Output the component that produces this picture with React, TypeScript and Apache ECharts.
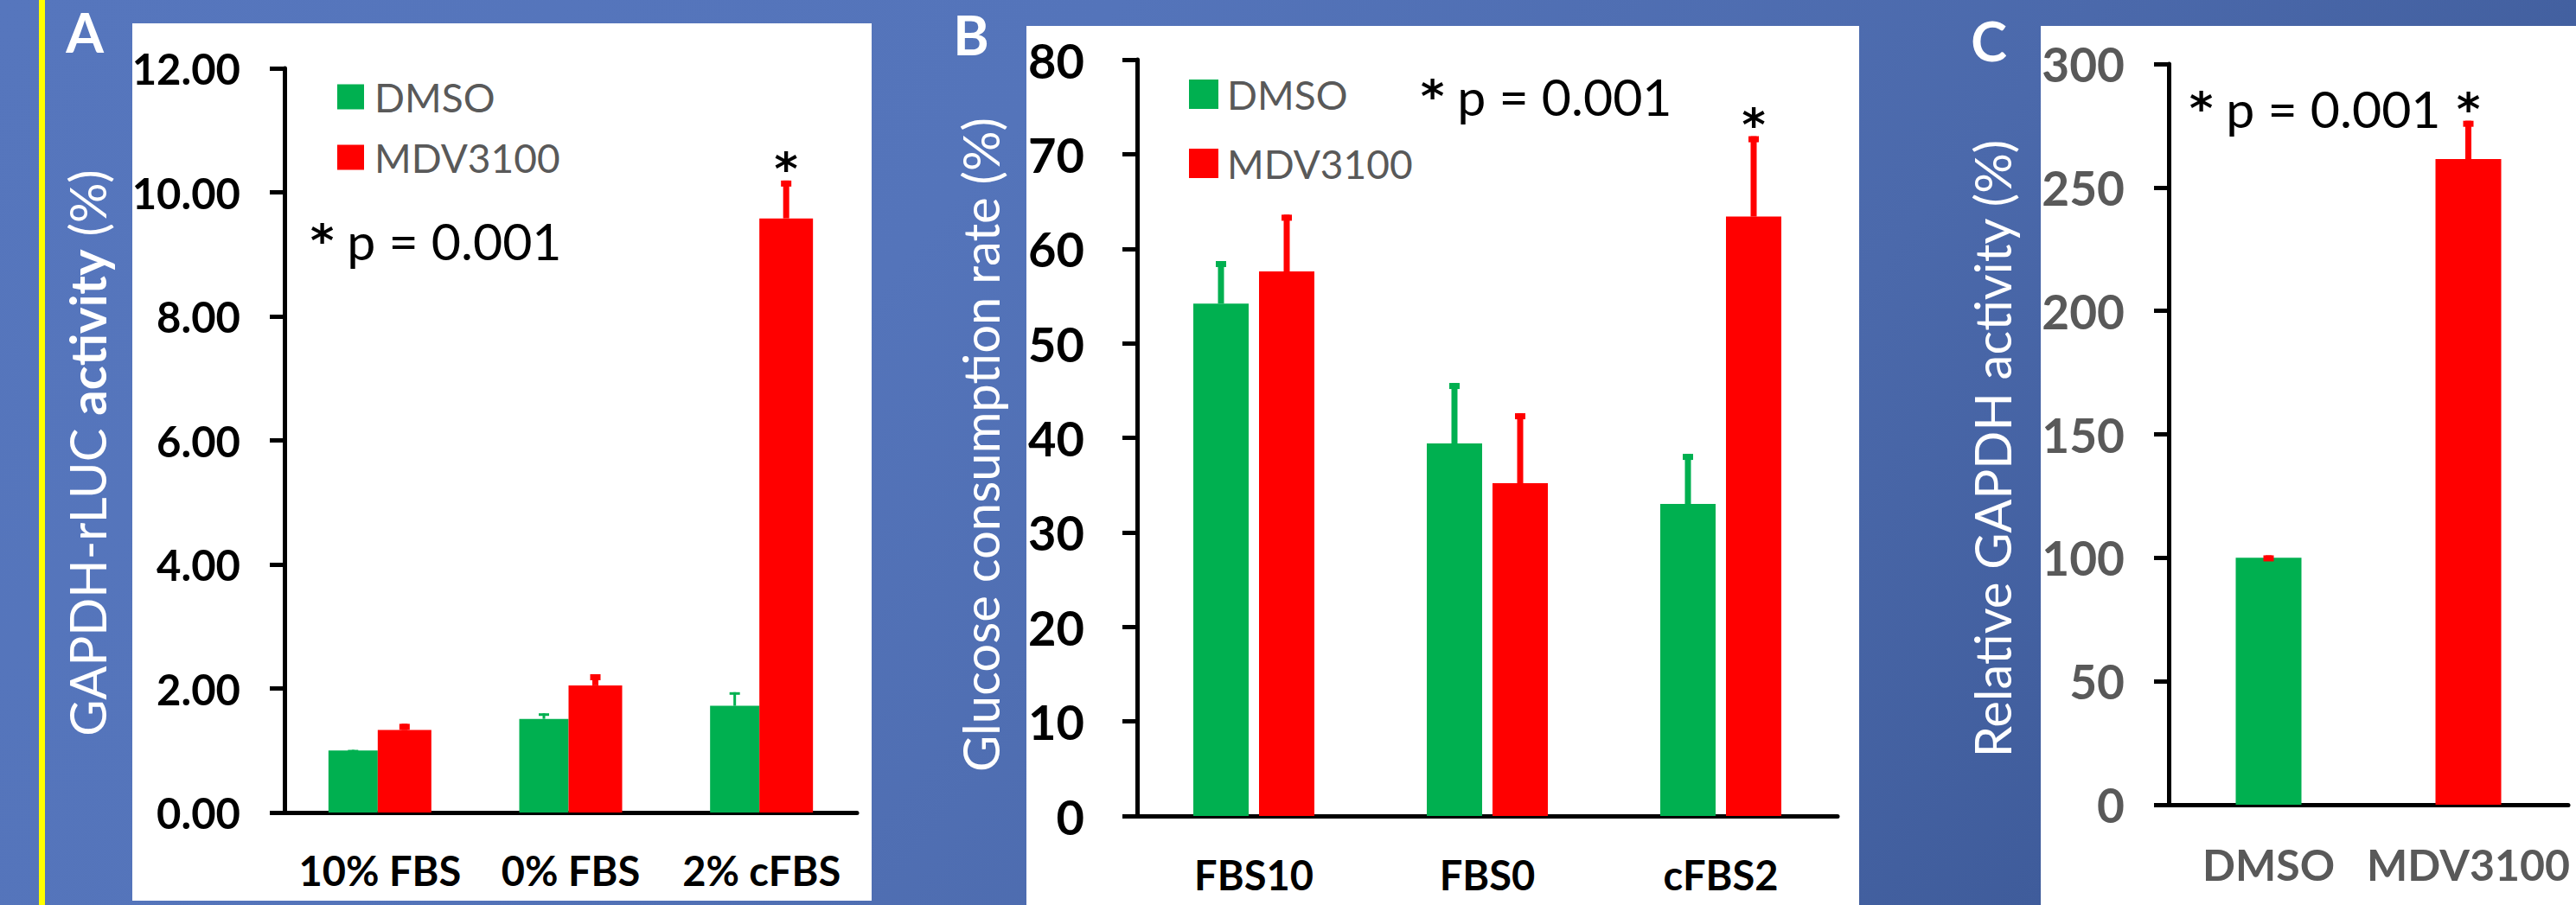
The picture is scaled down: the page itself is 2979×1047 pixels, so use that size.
import React, { useEffect, useRef } from 'react';
import * as echarts from 'echarts';

// ---------- DATA ----------
// Panel A : GAPDH-rLUC activity
const catsA = ['10% FBS', '0% FBS', '2% cFBS'];
const dmsoA = [1.0, 1.51, 1.72];
const dmsoErrA = [0.01, 0.09, 0.22];
const mdvA = [1.33, 2.05, 9.58];
const mdvErrA = [0.1, 0.18, 0.61];
const starA = [false, false, true];

// Panel B : Glucose consumption rate
const catsB = ['FBS10', 'FBS0', 'cFBS2'];
const dmsoB = [54.2, 39.4, 33.0];
const dmsoErrB = [4.5, 6.4, 5.3];
const mdvB = [57.6, 35.2, 63.4];
const mdvErrB = [6.0, 7.4, 8.5];
const starB = [false, false, true];

// Panel C : Relative GAPDH activity
const catsC = ['DMSO', 'MDV3100'];
const valC = [100, 261.5];
const errC = [1, 15.5];
const starC = [false, true];

const seriesNames = ['DMSO', 'MDV3100'];
const pText = '{s|*} p = 0.001';

// ---------- STYLE ----------
const GREEN = '#00B050';
const RED = '#FF0000';
const GREY = '#595959';
const FONT = 'Lato';
const STAR_FONT = 'DejaVu Sans';
const AX = { color: '#000', width: 5 };

function errSeries(axis: number, vals: number[], errs: number[], stars: boolean[], offset: number, color: string, stemW: number, capW: number, capH: number) {
  return {
    type: 'custom',
    xAxisIndex: axis,
    yAxisIndex: axis,
    z: 5,
    silent: true,
    clip: false,
    data: vals.map((v, i) => [i, v, v + errs[i], stars[i] ? 1 : 0]),
    encode: { x: 0, y: [1, 2] },
    renderItem: (params: any, api: any) => {
      const base = api.coord([api.value(0), api.value(1)]);
      const top = api.coord([api.value(0), api.value(2)]);
      const x = base[0] + offset;
      const children: any[] = [
        { type: 'rect', shape: { x: x - stemW / 2, y: top[1], width: stemW, height: Math.max(0, base[1] - top[1]) }, style: { fill: color } },
        { type: 'rect', shape: { x: x - capW / 2, y: top[1], width: capW, height: capH }, style: { fill: color } },
      ];
      if (api.value(3)) {
        children.push({
          type: 'text', x, y: top[1] - 14,
          style: { text: '*', fontSize: 52, fontWeight: 'bold', fontFamily: STAR_FONT, fill: '#000', align: 'center', verticalAlign: 'middle' },
        });
      }
      return { type: 'group', children };
    },
  };
}

function xAxisOf(grid: number, data: string[], color: string, margin: number, size: number) {
  return {
    type: 'category', gridIndex: grid, data,
    axisLine: { lineStyle: AX },
    axisTick: { inside: true, length: 17, lineStyle: AX },
    axisLabel: { fontFamily: FONT, fontWeight: 'bold', fontSize: size, color, margin, interval: 0 },
    splitLine: { show: false },
  };
}

function yAxisOf(grid: number, min: number, max: number, interval: number, label: any, name: string, nameGap: number, padR: number) {
  return {
    type: 'value', gridIndex: grid, min, max, interval,
    axisLine: { show: true, lineStyle: AX },
    axisTick: { show: true, length: 17, lineStyle: AX },
    splitLine: { show: false },
    axisLabel: { fontFamily: FONT, fontWeight: 'bold', ...label },
    name, nameLocation: 'middle', nameGap,
    nameTextStyle: {
      color: '#fff', fontFamily: FONT, fontSize: 58, lineHeight: 58, padding: [0, padR, 0, 0],
      rich: {
        r: { color: '#fff', fontFamily: FONT, fontSize: 58, lineHeight: 58 },
        b: { color: '#fff', fontFamily: FONT, fontSize: 58, lineHeight: 58, fontWeight: 'bold' },
      },
    },
  };
}

function pValue(x: number, y: number) {
  return {
    type: 'text', z: 10, x, y,
    style: {
      text: pText, fontFamily: FONT, fontSize: 59, fill: '#000', align: 'left', verticalAlign: 'middle',
      rich: { s: { fontFamily: STAR_FONT, fontWeight: 'bold', fontSize: 52, fill: '#000' } },
    },
  };
}

function letter(t: string, x: number, y: number) {
  return { type: 'text', z: 10, x, y, style: { text: t, fontFamily: FONT, fontWeight: 'bold', fontSize: 63, fill: '#fff', align: 'center', verticalAlign: 'middle' } };
}

export default function App() {
  const ref = useRef<HTMLDivElement>(null);
  useEffect(() => {
    document.body.style.margin = '0';
    const chart = echarts.init(ref.current!, null, { renderer: 'svg' });
    const bg = new echarts.graphic.LinearGradient(0, 0, 1, 0.3, [
      { offset: 0, color: '#5676BD' },
      { offset: 0.4, color: '#5474BA' },
      { offset: 0.75, color: '#4B69AB' },
      { offset: 1, color: '#3F5C9B' },
    ]);
    const option: any = {
      animation: false,
      graphic: [
        { type: 'rect', z: -30, shape: { x: 0, y: 0, width: 2979, height: 1047 }, style: { fill: bg } },
        { type: 'rect', z: -20, shape: { x: 45, y: 0, width: 7, height: 1047 }, style: { fill: '#FFFF00' } },
        { type: 'rect', z: -20, shape: { x: 153, y: 27, width: 855, height: 1015 }, style: { fill: '#fff' } },
        { type: 'rect', z: -20, shape: { x: 1187, y: 30, width: 963, height: 1017 }, style: { fill: '#fff' } },
        { type: 'rect', z: -20, shape: { x: 2360, y: 30, width: 619, height: 1017 }, style: { fill: '#fff' } },
        letter('A', 98, 36),
        letter('B', 1123, 39),
        letter('C', 2300, 46),
        pValue(359, 278),
        pValue(1643, 111),
        pValue(2532, 125),
      ],
      legend: [
        {
          data: seriesNames, orient: 'vertical', left: 390, top: 89, padding: 0,
          itemWidth: 31, itemHeight: 29, itemGap: 24, icon: 'rect', selectedMode: false,
          textStyle: { fontFamily: FONT, fontSize: 46, lineHeight: 46, color: GREY, padding: [0, 0, 0, 7] },
        },
        {
          data: seriesNames, orient: 'vertical', left: 1375, top: 86, padding: 0,
          itemWidth: 34, itemHeight: 34, itemGap: 34, icon: 'rect', selectedMode: false,
          textStyle: { fontFamily: FONT, fontSize: 46, lineHeight: 46, color: GREY, padding: [0, 0, 0, 5] },
        },
      ],
      grid: [
        { left: 329, top: 79, width: 662, height: 861 },
        { left: 1315, top: 69, width: 810, height: 875 },
        { left: 2508, top: 74, width: 462, height: 857 },
      ],
      xAxis: [
        xAxisOf(0, catsA, '#000', 43, 47),
        xAxisOf(1, catsB, '#000', 44, 47),
        xAxisOf(2, catsC, GREY, 44, 50),
      ],
      yAxis: [
        yAxisOf(0, 0, 12, 2, { fontSize: 49, color: '#000', margin: 51, formatter: (v: number) => v.toFixed(2) },
          '{r|GAPDH-rLUC }{b|activity}{r| (%)}', 200, 29),
        yAxisOf(1, 0, 80, 10, { fontSize: 56, color: '#000', margin: 61 },
          '{r|Glucose consumption rate (%)}', 153, 16),
        yAxisOf(2, 0, 300, 50, { fontSize: 55, color: GREY, margin: 51 },
          '{r|Relative GAPDH activity (%)}', 176, 33),
      ],
      series: [
        { name: 'DMSO', type: 'bar', xAxisIndex: 0, yAxisIndex: 0, data: dmsoA, barWidth: 57, barGap: '0%', itemStyle: { color: GREEN } },
        { name: 'MDV3100', type: 'bar', xAxisIndex: 0, yAxisIndex: 0, data: mdvA, barWidth: 62, barGap: '0%', itemStyle: { color: RED } },
        { name: 'DMSO', type: 'bar', xAxisIndex: 1, yAxisIndex: 1, data: dmsoB, barWidth: 64, barGap: '18.75%', itemStyle: { color: GREEN } },
        { name: 'MDV3100', type: 'bar', xAxisIndex: 1, yAxisIndex: 1, data: mdvB, barWidth: 64, barGap: '18.75%', itemStyle: { color: RED } },
        {
          name: 'GAPDH activity', type: 'bar', xAxisIndex: 2, yAxisIndex: 2, barWidth: 76,
          data: valC.map((v, i) => ({ value: v, itemStyle: { color: i === 0 ? GREEN : RED } })),
        },
        errSeries(0, dmsoA, dmsoErrA, [false, false, false], -31, GREEN, 3, 12, 3),
        errSeries(0, mdvA, mdvErrA, starA, 28.5, RED, 7, 12, 7),
        errSeries(1, dmsoB, dmsoErrB, [false, false, false], -38, GREEN, 7, 12, 7),
        errSeries(1, mdvB, mdvErrB, starB, 38, RED, 7, 12, 7),
        errSeries(2, valC, errC, starC, 0, RED, 7, 12, 7),
      ],
    };
    chart.setOption(option);
    return () => chart.dispose();
  }, []);
  return <div ref={ref} style={{ position: 'absolute', left: 0, top: 0, width: 2979, height: 1047 }} />;
}
